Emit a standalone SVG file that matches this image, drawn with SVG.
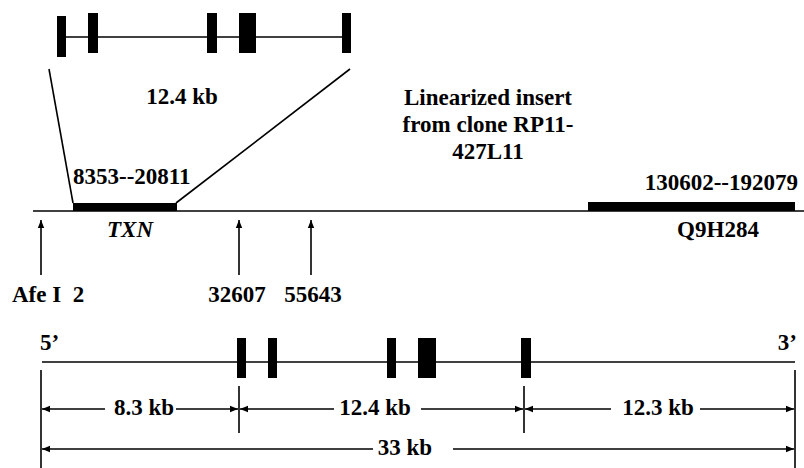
<svg xmlns="http://www.w3.org/2000/svg" width="804" height="468" viewBox="0 0 804 468">
<style>
text{font-family:'Liberation Serif','DejaVu Serif',serif;font-weight:bold;font-size:23px;fill:#000}
.ln{stroke:#000;stroke-width:1.6;fill:none}
.ex{fill:#000}
</style>
<defs>
<marker id="ah" viewBox="0 0 10 10" refX="10" refY="5" markerWidth="8" markerHeight="8" markerUnits="userSpaceOnUse" orient="auto-start-reverse">
<path d="M0,1 L10,5 L0,9 Z" fill="#000"/>
</marker>
</defs>
<rect width="804" height="468" fill="#fff"/>
<g id="top-gene">
<line class="ln" x1="62" y1="37" x2="346" y2="37"/>
<rect class="ex" x="57" y="16" width="9" height="41"/>
<rect class="ex" x="88" y="13" width="10" height="40"/>
<rect class="ex" x="207" y="13" width="10" height="40"/>
<rect class="ex" x="239" y="13" width="17" height="40"/>
<rect class="ex" x="342" y="13" width="9" height="40"/>
<text x="182" y="104" text-anchor="middle" font-family="Liberation Serif, serif">12.4 kb</text>
</g>
<g id="insert">
<line class="ln" x1="33" y1="211" x2="804" y2="211"/>
<text x="488" y="105" text-anchor="middle">Linearized insert</text>
<text x="488" y="132" text-anchor="middle">from clone RP11-</text>
<text x="488" y="159" text-anchor="middle">427L11</text>
</g>
<g id="txn">
<rect class="ex" x="73" y="203" width="104" height="8"/>
<text x="73" y="184">8353--20811</text>
<text x="130" y="237" text-anchor="middle" font-style="italic">TXN</text>
</g>
<g id="q9h284">
<rect class="ex" x="588" y="202" width="207" height="9"/>
<text x="798" y="190" text-anchor="end">130602--192079</text>
<text x="718" y="237" text-anchor="middle">Q9H284</text>
</g>
<g id="sites">
<text x="12" y="302" xml:space="preserve">Afe I  2</text>
<text x="237" y="302" text-anchor="middle">32607</text>
<text x="313" y="302" text-anchor="middle">55643</text>
</g>
<g id="bottom-gene">
<line class="ln" x1="42" y1="362" x2="795" y2="362"/>
<rect class="ex" x="237" y="338" width="9" height="40"/>
<rect class="ex" x="268" y="338" width="9" height="40"/>
<rect class="ex" x="387" y="338" width="9" height="40"/>
<rect class="ex" x="418" y="338" width="18" height="40"/>
<rect class="ex" x="521" y="338" width="10" height="40"/>
<text x="40" y="350">5’</text>
<text x="797" y="350" text-anchor="end">3’</text>
</g>
<g id="dimensions">
<line class="ln" x1="41" y1="370" x2="41" y2="468"/>
<line class="ln" x1="795" y1="370" x2="795" y2="468"/>
<line class="ln" x1="239" y1="386" x2="239" y2="433"/>
<line class="ln" x1="524" y1="386" x2="524" y2="433"/>
<text x="144" y="415" text-anchor="middle">8.3 kb</text>
<text x="375" y="415" text-anchor="middle">12.4 kb</text>
<text x="658" y="415" text-anchor="middle">12.3 kb</text>
<text x="405" y="455" text-anchor="middle">33 kb</text>
</g>
<g id="connectors">
<line class="ln" x1="49" y1="69" x2="73" y2="203"/>
<line class="ln" x1="350" y1="69" x2="176" y2="203"/>
<line class="ln" x1="41" y1="275" x2="41" y2="220" marker-end="url(#ah)"/>
<line class="ln" x1="239" y1="275" x2="239" y2="220" marker-end="url(#ah)"/>
<line class="ln" x1="311" y1="275" x2="311" y2="220" marker-end="url(#ah)"/>
<line class="ln" x1="105" y1="409" x2="42" y2="409" marker-end="url(#ah)"/>
<line class="ln" x1="176" y1="409" x2="238" y2="409" marker-end="url(#ah)"/>
<line class="ln" x1="334" y1="409" x2="240" y2="409" marker-end="url(#ah)"/>
<line class="ln" x1="421" y1="409" x2="523" y2="409" marker-end="url(#ah)"/>
<line class="ln" x1="611" y1="409" x2="525" y2="409" marker-end="url(#ah)"/>
<line class="ln" x1="700" y1="409" x2="794" y2="409" marker-end="url(#ah)"/>
<line class="ln" x1="373" y1="449" x2="42" y2="449" marker-end="url(#ah)"/>
<line class="ln" x1="453" y1="449" x2="794" y2="449" marker-end="url(#ah)"/>
</g>
</svg>
